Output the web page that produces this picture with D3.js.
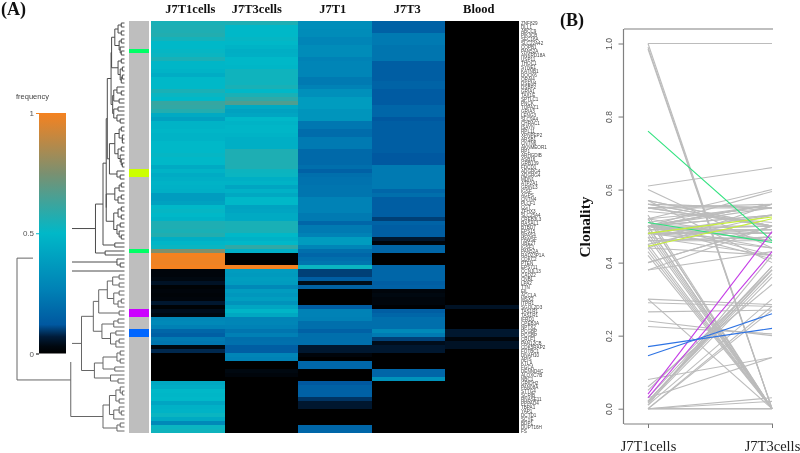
<!DOCTYPE html>
<html><head><meta charset="utf-8">
<script src="https://cdn.jsdelivr.net/npm/d3@7/dist/d3.min.js"></script>
<style>html,body{margin:0;padding:0;background:#fff;overflow:hidden}svg{display:block;filter:blur(.3px)}</style>
</head><body><svg id="c" width="800" height="453"></svg>
<script>
const columns = ["J7T1cells","J7T3cells","J7T1","J7T3","Blood"];
const genes = ["ZNF829","DLL1","ABCC9","PIK3CB","SEC16A","SLC22A42","COPB1","PAN52A","ANKRD18A","USP11","THOC1","SYNE1","KATNB1","DOCK6","ORAI4","DSEN4","DSBP2","GRIA1","TAX1E","SPTLC1","PNCK","TOPAZ1","GRIA3","LENG3","SLC9A4","CHRAC1","ISAYN","RPL11","XPNPEP2","ARSB1","CNTN6","AKNMEOR1","RP1","ARHGDIB","ASB16","GRB139","FDCD1","ADGRG4","ADGRG4","MDN1","ATP2A1","GRIN13","IGSF","AGPS","CNTN4","PLCF1","CGT","ZFHX3","SLC25A4","CREB3L3","RASAL1","BTBD7","EPS15","NPAS4","PAWSF","UBE2T","IGSF1","PAN52A","RAD23P1A","CDKC2","PTEN","EPS711","CCNJL13","CAD22","CNBL","LPA2","TTN","EIL","ACCLA","MSX2","ITPR1","SGOL2D3","TAS1R1","TAS1R1","IFRD1","CPEB3A","NPTX2","PCGBP","PCGBP","CRLF1","PAN12CB","CDK5RAP2","FOTBC1","DNAH10","APIS","KTLA","FGCA","DENND4C","ALOXC7B","NBC1","GRIDH2","PAN08A","STTG4","SCRIB","RNASE11","PPPAD4","TBPA1","YAP1","DCTD1","SCYE","BDP1","DUPT16H","FS"];
const cellsT1 = [.55,.56,.56,.57,.54,.5,.5,.51,.52,.55,.49,.49,.48,.45,.5,.5,.5,.55,.52,.5,.61,.6,.57,.44,.4,.48,.48,.49,.48,.48,.5,.5,.5,.51,.5,.5,.44,.48,.445,.46,.48,.47,.46,.38,.38,.4,.5,.51,.5,.48,.56,.56,.55,.57,.46,.49,.52,.76,1,.99,.985,1,.02,.02,.03,.05,.01,.02,.015,.02,.06,.01,.04,.03,.29,.3,.265,.17,.145,.24,.225,.03,.08,0,0,0,0,0,0,0,.43,.45,.5,.49,.5,.42,.47,.48,.52,.44,.3,.52,.53];
const cellsT3 = [.56,.5,.5,.5,.51,.5,.48,.455,.46,.5,.5,.49,.53,.53,.53,.53,.55,.5,.55,.595,.66,.44,.4,.42,.5,.48,.49,.49,.48,.46,.46,.46,.56,.56,.56,.56,.56,.525,.52,.46,.48,.42,.47,.43,.5,.5,.41,.42,.44,.44,.55,.55,.55,.5,.47,.5,.6,.46,0,0,0,1,.38,.37,.39,.38,.3,.38,.36,.39,.34,.42,.485,.43,.28,.285,.27,.22,.26,.2,.205,.14,.14,.28,.27,0,0,.03,.02,0,0,0,0,0,0,0,0,0,0,0,0,0,0];
const bulkT1 = [.32,.32,.31,.31,.28,.28,.31,.31,.31,.27,.28,.28,.28,.28,.24,.24,.27,.33,.33,.38,.38,.38,.35,.35,.35,.23,.23,.19,.19,.24,.24,.24,.18,.18,.18,.18,.2,.15,.2,.21,.21,.22,.22,.22,.27,.27,.27,.27,.24,.24,.17,.24,.24,.27,.38,.38,.28,.2,.17,.2,.22,.52,.1,.1,.14,.04,.15,0,0,0,0,.14,.27,.27,.26,.2,.2,.15,.2,.2,.2,.06,.06,.02,0,.17,.17,0,0,0,.12,.15,.15,.15,.09,.06,.06,0,0,0,0,.17,.17];
const bulkT3 = [.15,.15,.15,.24,.24,.24,.22,.22,.22,.22,.14,.14,.14,.14,.14,.16,.16,.13,.13,.13,.13,.17,.17,.17,.12,.14,.14,.14,.14,.14,.14,.14,.14,.12,.12,.12,.24,.24,.24,.24,.24,.24,.17,.2,.14,.14,.14,.14,.14,.1,.16,.14,.14,.14,.06,.02,.17,.17,0,0,0,.17,.17,.17,.17,.14,.15,.02,.03,.02,.02,.005,.14,.17,.2,.2,.2,.3,.24,.1,.04,.06,.06,0,0,0,0,.17,.17,.34,0,0,0,0,0,0,0,0,0,0,0,0,0];
const blood = [0,0,0,0,0,0,0,0,0,0,0,0,0,0,0,0,0,0,0,0,0,0,0,0,0,0,0,0,0,0,0,0,0,0,0,0,0,0,0,0,0,0,0,0,0,0,0,0,0,0,0,0,0,0,0,0,0,0,0,0,0,0,0,0,0,0,0,0,0,0,0,.05,0,0,0,0,0,.06,.06,.02,.05,.05,0,0,0,0,0,0,0,0,0,0,0,0,0,0,0,0,0,0,0,0,0];
const heatSeries = [cellsT1,cellsT3,bulkT1,bulkT3,blood];
const rowColours = {7:"#00ff66",37:"#ccff00",38:"#ccff00",57:"#00ff66",72:"#cc00ff",73:"#cc00ff",77:"#0066ff",78:"#0066ff"};
const lineColours = {"#00ff66":"#2fe27e","#ccff00":"#c6ef3a","#cc00ff":"#c43be6","#0066ff":"#2f74e4"};
const freqStops = [0,.03,.07,.12,.26,.5,.75,1];
const freqColours = ["#000000","#000810","#001c3a","#0058a0","#0080b5","#00b8c8","#7b9070","#f58220"];
const freqTicks = [0,.5,1];
const clonTicks = [0,.2,.4,.6,.8,1];
const L = 0;
// merge tree: [merge height, ...children]; L is a gene
const tree = [1,
 [.67,
  [.62,
   [.27,
    [.2,
     [.17,
      [.16,
       [.125,
        [.12,[.09,[.06,[.03,L,L],[.03,L,L]],[.05,[.03,L,L],[.04,L,[.03,L,L]]]],[.06,[.03,L,L],[.04,[.02,L,L],[.03,[.02,L,L],L]]]],
        [.11,[.1,[.07,L,[.03,L,L]],[.05,L,L]],[.1,[.06,L,L],[.07,L,[.04,L,L]]]]],
       [.14,[.09,[.05,[.03,L,L],[.02,L,[.02,L,L]]],[.06,[.03,L,L],[.04,L,[.03,L,[.02,L,L]]]]],[.07,L,[.04,L,L]]]],
      [.17,
       [.09,[.05,[.03,L,L],L],[.06,[.03,L,L],L]],
       [.1,[.06,[.03,L,L],[.03,L,L]],[.07,[.04,L,L],[.05,L,[.03,L,L]]]]]],
     [.09,L,L]],
    [.18,L,L]],
   [.07,L,[.04,L,L]]],
  L],
 [.5,
  [.4,
   [.29,
    [.24,
     [.16,[.11,[.05,L,L],[.05,L,L]],[.1,[.05,L,L],[.06,[.03,L,L],L]]],
     [.05,L,L]],
    [.21,[.1,[.06,L,L],L],[.13,[.08,L,L],[.08,[.05,L,L],L]]]],
   [.28,
    [.2,[.07,[.04,L,L],[.04,L,L]],[.09,L,L]],
    [.13,L,[.06,L,L]]]],
  [.2,
   [.14,[.08,[.04,L,[.02,L,L]],[.05,L,L]],[.1,[.05,L,[.03,L,L]],L]],
   [.07,[.04,L,L],L]]]];

const svg = d3.select("#c");
const serif = "'Liberation Serif','Times New Roman',serif";
const sans = "'Liberation Sans',Arial,sans-serif";
const freqColour = d3.scaleLinear().domain(freqStops).range(freqColours).clamp(true);

// Panel labels and column titles
const px = d3.scaleBand().domain(columns).range([151,518.5]);
const py = d3.scaleBand().domain(d3.range(genes.length)).range([21,433]);
[["(A)",1,15],["(B)",560,26]].forEach(d=>svg.append("text").attr("x",d[1]).attr("y",d[2]).attr("font-family",serif).attr("font-weight","bold").attr("font-size",18).attr("fill","#111").text(d[0]));
svg.append("g").selectAll("text").data(columns).join("text")
  .attr("x",(d,i)=>px(d)+px.bandwidth()/2+[2.5,-4.5,-2,-1,-3][i]).attr("y",13).attr("text-anchor","middle")
  .attr("font-family",serif).attr("font-weight","bold").attr("font-size",12.5).attr("fill","#111").text(d=>d);

// Dendrogram
const root = d3.hierarchy(tree, d=>Array.isArray(d)?d.slice(1):null);
const hx = d3.scaleLinear().domain([0,1]).range([124.5,17]);
let leafNo = 0;
root.eachAfter(n=>{
  if(!n.children){n.ry=py(leafNo++)+py.bandwidth()/2;n.h=0;}
  else{n.h=n.data[0];n.ry=(n.children[0].ry+n.children[n.children.length-1].ry)/2;}
});
const dend = svg.append("g").attr("fill","none").attr("stroke-width",1);
dend.selectAll("path").data(root.descendants().filter(n=>n.children)).join("path")
  .attr("stroke",n=>n.ry>270?"#666":"#4c4c4c")
  .attr("d",n=>n.children.map(c=>`M${hx(c.h)},${c.ry}H${hx(n.h)}`).join("")+`M${hx(n.h)},${n.children[0].ry}V${n.children[n.children.length-1].ry}`);

// Annotation bar
svg.append("g").selectAll("rect").data(genes).join("rect")
  .attr("x",128.5).attr("width",20.5).attr("y",(d,i)=>py(i)).attr("height",py.bandwidth())
  .attr("shape-rendering","crispEdges").attr("fill",(d,i)=>rowColours[i]||"#bebebe");

// Heatmap
svg.append("g").attr("shape-rendering","crispEdges").selectAll("g").data(heatSeries).join("g").each(function(vals,c){
  d3.select(this).selectAll("rect").data(vals).join("rect")
    .attr("x",px(columns[c])).attr("width",px.bandwidth()+.5)
    .attr("y",(d,i)=>py(i)).attr("height",py.bandwidth())
    .attr("fill",d=>freqColour(d));
});

// Gene labels
svg.append("g").selectAll("text").data(genes).join("text")
  .attr("x",521).attr("y",(d,i)=>py(i)+py.bandwidth()/2+1.6)
  .attr("font-family",sans).attr("font-size",4.6).attr("fill","#444").text(d=>d);

// Colour bar
const grad = svg.append("defs").append("linearGradient").attr("id","fg").attr("x1",0).attr("x2",0).attr("y1",1).attr("y2",0);
freqStops.forEach((s,i)=>grad.append("stop").attr("offset",s).attr("stop-color",freqColours[i]));
const cy = d3.scaleLinear().domain([0,1]).range([353.5,113]);
svg.append("rect").attr("x",33).attr("y",100).attr("width",39).attr("height",262).attr("fill","#fff");
svg.append("rect").attr("x",39).attr("y",cy(1)).attr("width",27).attr("height",cy(0)-cy(1)).attr("fill","url(#fg)");
const cax = svg.append("g").attr("transform","translate(39,0)")
  .call(d3.axisLeft(cy).tickValues(freqTicks).tickSize(3).tickFormat(d3.format("")));
cax.select(".domain").remove();
cax.selectAll("line").attr("stroke",d=>freqColour(d));
cax.selectAll("text").attr("font-family",sans).attr("font-size",8).attr("fill","#555").attr("x",-5);
svg.append("text").attr("x",16).attr("y",99).attr("font-family",sans).attr("font-size",7.5).attr("fill","#444").text("frequency");

// Panel B
const bx = d3.scalePoint().domain(["J7T1cells","J7T3cells"]).range([648,772]);
const by = d3.scaleLinear().domain([0,1]).range([408.7,43.5]);
svg.append("clipPath").attr("id","cl").append("rect").attr("x",620).attr("y",20).attr("width",153).attr("height",420);
const plot = svg.append("g").attr("clip-path","url(#cl)");
const lineGen = d3.line().x(d=>bx(d[0])).y(d=>by(d[1]));
const rows = d3.range(genes.length).map(i=>({i,c:rowColours[i],p:[["J7T1cells",cellsT1[i]],["J7T3cells",cellsT3[i]]]}));
plot.selectAll("path").data(rows.filter(r=>!r.c).concat(rows.filter(r=>r.c))).join("path")
  .attr("fill","none").attr("stroke-width",1.1)
  .attr("stroke",r=>r.c?lineColours[r.c]:"#bcbcbc").attr("d",r=>lineGen(r.p));
plot.append("path").attr("fill","none").attr("stroke","#808080").attr("stroke-width",1.2)
  .attr("d","M624,29H773M623.5,29V424M624,424H773");
const yax = svg.append("g").attr("transform","translate(623.5,0)")
  .call(d3.axisLeft(by).tickValues(clonTicks).tickSize(5).tickFormat(d3.format(".1f")));
yax.select(".domain").remove();
yax.selectAll("line").attr("stroke","#777");
yax.selectAll("text").attr("font-family",sans).attr("font-size",8.5).attr("fill","#555")
  .attr("transform","translate(-14.5,0) rotate(-90)").attr("x",0).attr("y",0).attr("dy",".32em").attr("text-anchor","middle");
const xax = svg.append("g").attr("transform","translate(0,424)")
  .call(d3.axisBottom(bx).tickSize(4));
xax.select(".domain").remove();
xax.selectAll("line").attr("stroke","#777");
xax.selectAll("text").attr("font-family",serif).attr("font-size",14.5).attr("fill","#222").attr("y",27).attr("dy",0);
svg.append("text").attr("transform","translate(590,227) rotate(-90)").attr("text-anchor","middle")
  .attr("font-family",serif).attr("font-weight","bold").attr("font-size",15.5).attr("fill","#111").text("Clonality");
</script></body></html>
